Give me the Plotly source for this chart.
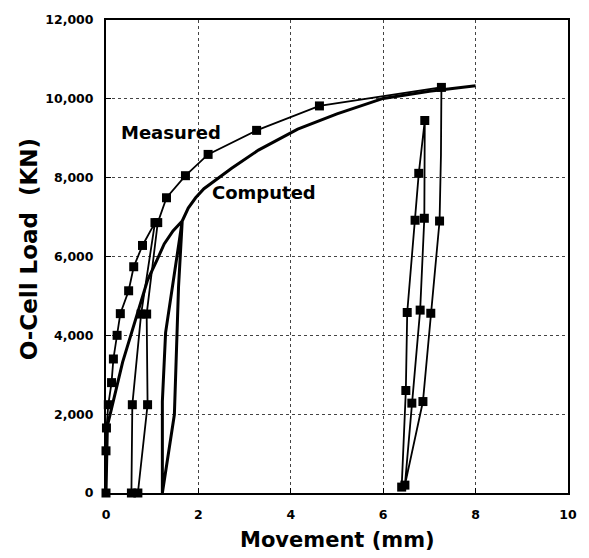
import plotly.graph_objects as go

# Measured load-movement path (mm, kN), in loading order
measured_x = [0, 0, 0.01, 0.05, 0.12, 0.16, 0.24, 0.31, 0.49, 0.60, 0.79, 1.06,
              0.76, 0.57, 0.55,
              0.69, 0.90, 0.88, 1.12,
              1.31, 1.72, 2.21, 3.26, 4.62, 7.26,
              7.25, 7.22, 7.03, 6.86, 6.47,
              6.62, 6.80, 6.89, 6.90,
              6.77, 6.69, 6.52, 6.49, 6.40]
measured_y = [0, 1070, 1650, 2240, 2800, 3400, 4000, 4550, 5130, 5740, 6280, 6860,
              4540, 2240, 0,
              0, 2240, 4540, 6860,
              7490, 8050, 8590, 9200, 9820, 10290,
              8570, 6900, 4560, 2320, 200,
              2280, 4640, 6970, 9450,
              8110, 6920, 4580, 2600, 150]
measured_unmarked = [25]  # path vertex drawn without a marker

# Computed load-movement path (mm, kN)
computed_x = [0, 0.03, 0.36, 0.73, 0.90, 1.10, 1.26, 1.45, 1.65,
              1.57, 1.48, 1.22,
              1.22, 1.29, 1.65,
              1.78, 1.94, 2.12, 2.37, 2.72, 3.30, 4.15, 5.0, 6.0, 7.0, 8.0]
computed_y = [0, 1700, 3320, 4730, 5400, 5900, 6320, 6650, 6900,
              5230, 1990, 0,
              2320, 4070, 6900,
              7230, 7490, 7720, 7940, 8240, 8700, 9230, 9620, 10010, 10190, 10330]

x_ticks = [0, 2, 4, 6, 8, 10]
y_ticks = [0, 2000, 4000, 6000, 8000, 10000, 12000]

FONT = "DejaVu Sans"

mk_x = [v for i, v in enumerate(measured_x) if i not in measured_unmarked]
mk_y = [v for i, v in enumerate(measured_y) if i not in measured_unmarked]

fig = go.Figure()
fig.add_trace(go.Scatter(x=computed_x, y=computed_y, mode="lines",
                         line=dict(color="black", width=3), name="Computed",
                         showlegend=False))
fig.add_trace(go.Scatter(x=measured_x, y=measured_y, mode="lines",
                         line=dict(color="black", width=1.8), name="Measured",
                         showlegend=False))
fig.add_trace(go.Scatter(x=mk_x, y=mk_y, mode="markers", cliponaxis=False,
                         marker=dict(symbol="square", size=9, color="black"),
                         name="Measured", showlegend=False))

axis_common = dict(
    showgrid=True, gridcolor="#444", griddash="dot", gridwidth=1,
    showline=True, linecolor="black", linewidth=2, mirror=True,
    ticks="inside", ticklen=5, tickcolor="black", tickwidth=1,
    zeroline=False,
    tickfont=dict(family=FONT, size=12.5, color="black", weight="bold"),
)

fig.update_xaxes(range=[0, 10], tickvals=x_ticks, ticklabelstandoff=9, **axis_common)
fig.update_yaxes(range=[0, 12000], tickvals=y_ticks, tickformat=",d",
                 ticklabelstandoff=8, **axis_common)

fig.add_annotation(x=1.41, y=9140, text="<b>Measured</b>", showarrow=False,
                   font=dict(family=FONT, size=18, color="black"))
fig.add_annotation(x=3.42, y=7620, text="<b>Computed</b>", showarrow=False,
                   font=dict(family=FONT, size=18, color="black"))
fig.add_annotation(xref="paper", yref="paper", x=-0.166, y=0.516,
                   text="<b>O-Cell Load  (KN)</b>", textangle=-90, showarrow=False,
                   xanchor="center", yanchor="middle",
                   font=dict(family=FONT, size=23, color="black"))
fig.add_annotation(xref="paper", yref="paper", x=0.5, y=-0.099,
                   text="<b>Movement (mm)</b>", showarrow=False,
                   xanchor="center", yanchor="middle",
                   font=dict(family=FONT, size=21, color="black"))

fig.update_layout(
    width=589, height=558,
    margin=dict(l=106, r=16, t=13, b=65),
    plot_bgcolor="white", paper_bgcolor="white",
    showlegend=False,
)

fig.write_html("out.html")
